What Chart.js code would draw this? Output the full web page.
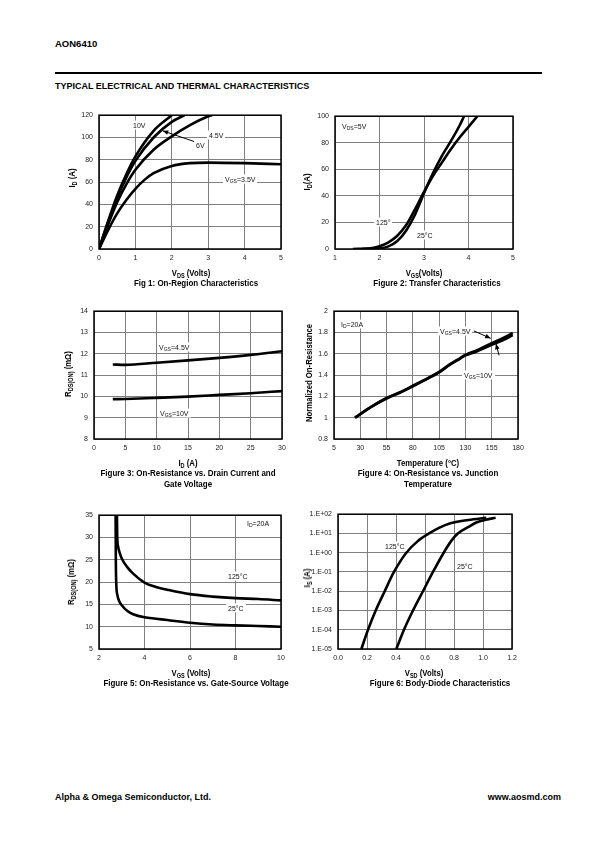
<!DOCTYPE html>
<html lang="en">
<head>
<meta charset="UTF-8">
<title>AON6410 - Typical Electrical and Thermal Characteristics</title>
<script src="https://cdn.jsdelivr.net/npm/chart.js"></script>
<style>
  body { margin:0; width:595px; height:842px; position:relative; background:#fff; color:#000;
         font-family:"Liberation Sans", Arial, sans-serif; overflow:hidden; }
  canvas { position:absolute; }
  .abs { position:absolute; white-space:nowrap; }
  .hdr { font-weight:bold; font-size:9.5px; line-height:11px; }
  .cap { font-weight:bold; font-size:9.5px; line-height:10.5px; text-align:center;
         transform:translateX(-50%) scaleX(0.84); }
  .ax  { font-weight:bold; font-size:9px; line-height:10px; transform:translate(-50%,-50%) scaleX(0.86); }
  .ay  { font-weight:bold; font-size:9px; line-height:10px; transform:translate(-50%,-50%) rotate(-90deg) scaleX(0.86); }
  .lbl { font-size:7px; line-height:9px; background:#fff; padding:0 2px; transform:translateY(-50%);
         color:#111; filter:grayscale(100%); }
  sub  { font-size:72%; vertical-align:-1.5px; line-height:0; }
</style>
</head>
<body>

<div class="abs hdr" style="left:55px;top:38px;">AON6410</div>
<div class="abs" style="left:55px;top:72px;width:487px;border-top:2.3px solid #000;"></div>
<div class="abs hdr" style="left:55px;top:81px;font-size:9px;">TYPICAL ELECTRICAL AND THERMAL CHARACTERISTICS</div>

<canvas id="c1"></canvas>
<canvas id="c2"></canvas>
<canvas id="c3"></canvas>
<canvas id="c4"></canvas>
<canvas id="c5"></canvas>
<canvas id="c6"></canvas>

<!-- fig 1 -->
<div class="abs lbl" style="left:131px;top:125px;">10V</div>
<div class="abs lbl" style="left:207px;top:135px;">4.5V</div>
<div class="abs lbl" style="left:194px;top:145px;">6V</div>
<div class="abs lbl" style="left:223px;top:179px;">V<sub>GS</sub>=3.5V</div>
<div class="abs ay" style="left:72px;top:178px;">I<sub>D</sub> (A)</div>
<div class="abs ax" style="left:191px;top:273px;">V<sub>DS</sub> (Volts)</div>
<div class="abs cap" style="left:196px;top:278px;">Fig 1: On-Region Characteristics</div>

<!-- fig 2 -->
<div class="abs lbl" style="left:340px;top:126px;">V<sub>DS</sub>=5V</div>
<div class="abs lbl" style="left:374px;top:222px;">125°</div>
<div class="abs lbl" style="left:415px;top:235px;">25°C</div>
<div class="abs ay" style="left:307px;top:182px;">I<sub>D</sub>(A)</div>
<div class="abs ax" style="left:424px;top:273px;">V<sub>GS</sub>(Volts)</div>
<div class="abs cap" style="left:437px;top:278px;">Figure 2: Transfer Characteristics</div>

<!-- fig 3 -->
<div class="abs lbl" style="left:157px;top:347px;">V<sub>GS</sub>=4.5V</div>
<div class="abs lbl" style="left:158px;top:413px;">V<sub>GS</sub>=10V</div>
<div class="abs ay" style="left:68px;top:374px;">R<sub>DS(ON)</sub> (mΩ)</div>
<div class="abs ax" style="left:188px;top:463px;">I<sub>D</sub> (A)</div>
<div class="abs cap" style="left:188px;top:468px;">Figure 3: On-Resistance vs. Drain Current and<br>Gate Voltage</div>

<!-- fig 4 -->
<div class="abs lbl" style="left:339px;top:324px;">I<sub>D</sub>=20A</div>
<div class="abs lbl" style="left:438px;top:331px;">V<sub>GS</sub>=4.5V</div>
<div class="abs lbl" style="left:462px;top:375px;">V<sub>GS</sub>=10V</div>
<div class="abs ay" style="left:309px;top:373px;">Normalized On-Resistance</div>
<div class="abs ax" style="left:428px;top:463px;">Temperature (°C)</div>
<div class="abs cap" style="left:428px;top:468px;">Figure 4: On-Resistance vs. Junction<br>Temperature</div>

<!-- fig 5 -->
<div class="abs lbl" style="left:245px;top:523px;">I<sub>D</sub>=20A</div>
<div class="abs lbl" style="left:226px;top:576px;">125°C</div>
<div class="abs lbl" style="left:226px;top:608px;">25°C</div>
<div class="abs ay" style="left:71px;top:582px;">R<sub>DS(ON)</sub> (mΩ)</div>
<div class="abs ax" style="left:191px;top:673px;">V<sub>GS</sub> (Volts)</div>
<div class="abs cap" style="left:196px;top:678px;">Figure 5: On-Resistance vs. Gate-Source Voltage</div>

<!-- fig 6 -->
<div class="abs lbl" style="left:383px;top:546px;">125°C</div>
<div class="abs lbl" style="left:455px;top:566px;">25°C</div>
<div class="abs ay" style="left:307px;top:578px;">I<sub>S</sub> (A)</div>
<div class="abs ax" style="left:424px;top:673px;">V<sub>SD</sub> (Volts)</div>
<div class="abs cap" style="left:440px;top:678px;">Figure 6: Body-Diode Characteristics</div>

<div class="abs hdr" style="left:55px;top:792px;font-size:9px;">Alpha &amp; Omega Semiconductor, Ltd.</div>
<div class="abs hdr" style="right:34px;top:792px;font-size:9px;">www.aosmd.com</div>

<script>
// ---- Fig 1: On-region characteristics (ID vs VDS) ----
const fig1XTicks = [0, 1, 2, 3, 4, 5];
const fig1YTicks = [0, 20, 40, 60, 80, 100, 120];
const fig1X10 = [0, 0.25, 0.5, 0.75, 1, 1.5, 2];
const fig1Y10 = [0, 25, 48, 67, 83, 106, 120];
const fig1X6 = [0, 0.25, 0.5, 0.75, 1, 1.5, 2, 2.35];
const fig1Y6 = [0, 24, 46, 64, 79, 100, 114, 120];
const fig1X45 = [0, 0.25, 0.5, 0.75, 1, 1.5, 2, 2.5, 3, 3.1];
const fig1Y45 = [0, 22, 42, 58, 71, 89, 101, 111, 119, 120];
const fig1X35 = [0, 0.25, 0.5, 0.75, 1, 1.25, 1.5, 2, 2.5, 3, 4, 5];
const fig1Y35 = [0, 17, 32, 44, 54, 62, 68, 74.5, 77, 77.5, 77, 76];

// ---- Fig 2: transfer characteristics (ID vs VGS) ----
const fig2XTicks = [1, 2, 3, 4, 5];
const fig2YTicks = [0, 20, 40, 60, 80, 100];
const fig2X125 = [1.4, 1.8, 2, 2.2, 2.4, 2.6, 2.8, 3.0, 3.2, 3.4, 3.6, 3.8, 4.0, 4.2];
const fig2Y125 = [0, 0.5, 2, 5, 10, 18, 30, 43, 55, 65, 75, 84, 92, 100];
const fig2X25 = [1.6, 2, 2.2, 2.4, 2.6, 2.8, 3.0, 3.2, 3.4, 3.6, 3.8, 3.9];
const fig2Y25 = [0, 0.5, 2, 6, 14, 26, 42, 57, 70, 81, 93, 100];

// ---- Fig 3: RDS(ON) vs ID ----
const fig3XTicks = [0, 5, 10, 15, 20, 25, 30];
const fig3YTicks = [8, 9, 10, 11, 12, 13, 14];
const fig3X = [3, 5, 10, 15, 20, 25, 30];
const fig3Y45 = [11.5, 11.48, 11.58, 11.69, 11.81, 11.95, 12.12];
const fig3Y10 = [9.87, 9.88, 9.93, 9.99, 10.07, 10.15, 10.25];

// ---- Fig 4: normalized RDS(ON) vs temperature ----
const fig4XTicks = [5, 30, 55, 80, 105, 130, 155, 180];
const fig4YTicks = [0.8, 1, 1.2, 1.4, 1.6, 1.8, 2];
const fig4X = [25, 40, 55, 70, 80, 90, 105, 115, 125, 130, 140, 155, 165, 175];
const fig4Y45 = [1.0, 1.1, 1.185, 1.25, 1.30, 1.35, 1.43, 1.50, 1.56, 1.59, 1.63, 1.70, 1.745, 1.795];
const fig4Y10 = [1.0, 1.1, 1.18, 1.245, 1.295, 1.345, 1.425, 1.495, 1.555, 1.585, 1.62, 1.685, 1.725, 1.775];

// ---- Fig 5: RDS(ON) vs VGS ----
const fig5XTicks = [2, 4, 6, 8, 10];
const fig5YTicks = [5, 10, 15, 20, 25, 30, 35];
const fig5X125 = [2.79, 2.8, 2.84, 2.9, 3, 3.25, 3.5, 4, 4.5, 5, 6, 7, 8, 9, 10];
const fig5Y125 = [35, 30.5, 28, 26.7, 25.3, 23.3, 21.9, 19.9, 18.9, 18.3, 17.3, 16.75, 16.4, 16.2, 15.9];
const fig5X25 = [2.73, 2.74, 2.76, 2.8, 2.9, 3, 3.25, 3.5, 4, 4.5, 5, 6, 7, 8, 9, 10];
const fig5Y25 = [35, 25, 19.5, 17.3, 15.6, 14.8, 13.5, 12.8, 12.1, 11.8, 11.5, 10.9, 10.5, 10.3, 10.15, 10.0];

// ---- Fig 6: body diode IS vs VSD (log) ----
const fig6XTicks = [0, 0.2, 0.4, 0.6, 0.8, 1.0, 1.2];
const fig6YTicks = [1e-5, 1e-4, 1e-3, 1e-2, 1e-1, 1, 10, 100];
const fig6X125 = [0.161, 0.207, 0.26, 0.322, 0.386, 0.471, 0.55, 0.628, 0.7, 0.77, 0.9, 1.023];
const fig6Y125 = [1e-5, 1e-4, 1e-3, 1e-2, 1e-1, 1, 4, 10, 20, 33, 50, 65];
const fig6X25 = [0.402, 0.455, 0.517, 0.586, 0.655, 0.729, 0.78, 0.826, 0.9, 0.954, 1.02, 1.087];
const fig6Y25 = [1e-5, 1e-4, 1e-3, 1e-2, 1e-1, 1, 4, 10, 22, 37, 52, 65];

Chart.defaults.font.family = '"Liberation Sans", Arial, sans-serif';
Chart.defaults.animation = false;

function zip(xs, ys) { return xs.map((x, i) => ({ x: x, y: ys[i] })) }

function curve(xs, ys) {
  return {
    data: zip(xs, ys),
    showLine: true,
    borderColor: '#000',
    borderWidth: 2.6,
    pointRadius: 0,
    cubicInterpolationMode: 'monotone',
    fill: false
  }
}

// frame around the plot + optional arrows (given in data units)
const framePlugin = {
  id: 'frame',
  afterDraw(chart) {
    const ctx = chart.ctx, a = chart.chartArea;
    ctx.save();
    ctx.strokeStyle = '#000';
    ctx.lineWidth = 1.5;
    ctx.strokeRect(a.left, a.top, a.right - a.left, a.bottom - a.top);
    const arrows = chart.options.plugins.frame.arrows || [];
    const sx = chart.scales.x, sy = chart.scales.y;
    arrows.forEach(ar => {
      const x1 = sx.getPixelForValue(ar[0]), y1 = sy.getPixelForValue(ar[1]);
      const x2 = sx.getPixelForValue(ar[2]), y2 = sy.getPixelForValue(ar[3]);
      ctx.lineWidth = 1;
      ctx.beginPath(); ctx.moveTo(x1, y1); ctx.lineTo(x2, y2); ctx.stroke();
      const ang = Math.atan2(y2 - y1, x2 - x1);
      ctx.beginPath();
      ctx.moveTo(x2, y2);
      ctx.lineTo(x2 - 6 * Math.cos(ang - 0.4), y2 - 6 * Math.sin(ang - 0.4));
      ctx.lineTo(x2 - 6 * Math.cos(ang + 0.4), y2 - 6 * Math.sin(ang + 0.4));
      ctx.closePath(); ctx.fillStyle = '#000'; ctx.fill();
    });
    ctx.restore();
  }
};

const ML = 44, MR = 14, MT = 8, MB = 20;

function makeChart(id, box, xOpt, yOpt, datasets, arrows) {
  const cv = document.getElementById(id);
  cv.width = box.w + ML + MR;
  cv.height = box.h + MT + MB;
  cv.style.left = (box.l - ML) + 'px';
  cv.style.top = (box.t - MT) + 'px';

  const tickFont = { size: 7 };
  function axis(o, isX) {
    return {
      type: o.type || 'linear',
      min: o.min, max: o.max,
      afterBuildTicks: s => { s.ticks = o.ticks.map(v => ({ value: v })) },
      afterFit: s => { if (isX) s.height = MB; else s.width = ML },
      grid: { color: '#7f7f7f', lineWidth: 1, drawTicks: false },
      border: { display: false },
      ticks: {
        autoSkip: false, maxRotation: 0, padding: isX ? 5 : 6,
        color: '#222', font: tickFont,
        callback: v => (o.fmt ? o.fmt(v) : String(v))
      }
    }
  }

  return new Chart(cv, {
    type: 'scatter',
    data: { datasets: datasets },
    options: {
      responsive: false,
      maintainAspectRatio: false,
      layout: { padding: { top: MT, right: MR, left: 0, bottom: 0 } },
      plugins: { legend: { display: false }, tooltip: { enabled: false }, frame: { arrows: arrows || [] } },
      scales: { x: axis(xOpt, true), y: axis(yOpt, false) }
    },
    plugins: [framePlugin]
  });
}

function expLabel(v) {
  const e = Math.round(Math.log10(v));
  const a = Math.abs(e);
  return '1.E' + (e < 0 ? '-' : '+') + (a < 10 ? '0' : '') + a;
}

makeChart('c1', { l: 99, t: 113, w: 182, h: 136 },
  { min: 0, max: 5, ticks: fig1XTicks },
  { min: 0, max: 120, ticks: fig1YTicks },
  [curve(fig1X10, fig1Y10), curve(fig1X6, fig1Y6), curve(fig1X45, fig1Y45), curve(fig1X35, fig1Y35)],
  [[2.65, 96, 1.75, 106]]);

makeChart('c2', { l: 335, t: 114, w: 178, h: 135 },
  { min: 1, max: 5, ticks: fig2XTicks },
  { min: 0, max: 100, ticks: fig2YTicks },
  [curve(fig2X125, fig2Y125), curve(fig2X25, fig2Y25)]);

makeChart('c3', { l: 94, t: 309, w: 188, h: 130 },
  { min: 0, max: 30, ticks: fig3XTicks },
  { min: 8, max: 14, ticks: fig3YTicks },
  [curve(fig3X, fig3Y45), curve(fig3X, fig3Y10)]);

makeChart('c4', { l: 334, t: 309, w: 184, h: 130 },
  { min: 5, max: 180, ticks: fig4XTicks },
  { min: 0.8, max: 2, ticks: fig4YTicks },
  [curve(fig4X, fig4Y45), curve(fig4X, fig4Y10)],
  [[138, 1.815, 154, 1.745], [162, 1.585, 159, 1.695]]);

makeChart('c5', { l: 99, t: 513, w: 182, h: 136 },
  { min: 2, max: 10, ticks: fig5XTicks },
  { min: 5, max: 35, ticks: fig5YTicks },
  [curve(fig5X125, fig5Y125), curve(fig5X25, fig5Y25)]);

makeChart('c6', { l: 338, t: 512, w: 174, h: 137 },
  { min: 0, max: 1.2, ticks: fig6XTicks, fmt: v => v.toFixed(1) },
  { type: 'logarithmic', min: 1e-5, max: 100, ticks: fig6YTicks, fmt: expLabel },
  [curve(fig6X125, fig6Y125), curve(fig6X25, fig6Y25)]);
</script>
</body>
</html>
